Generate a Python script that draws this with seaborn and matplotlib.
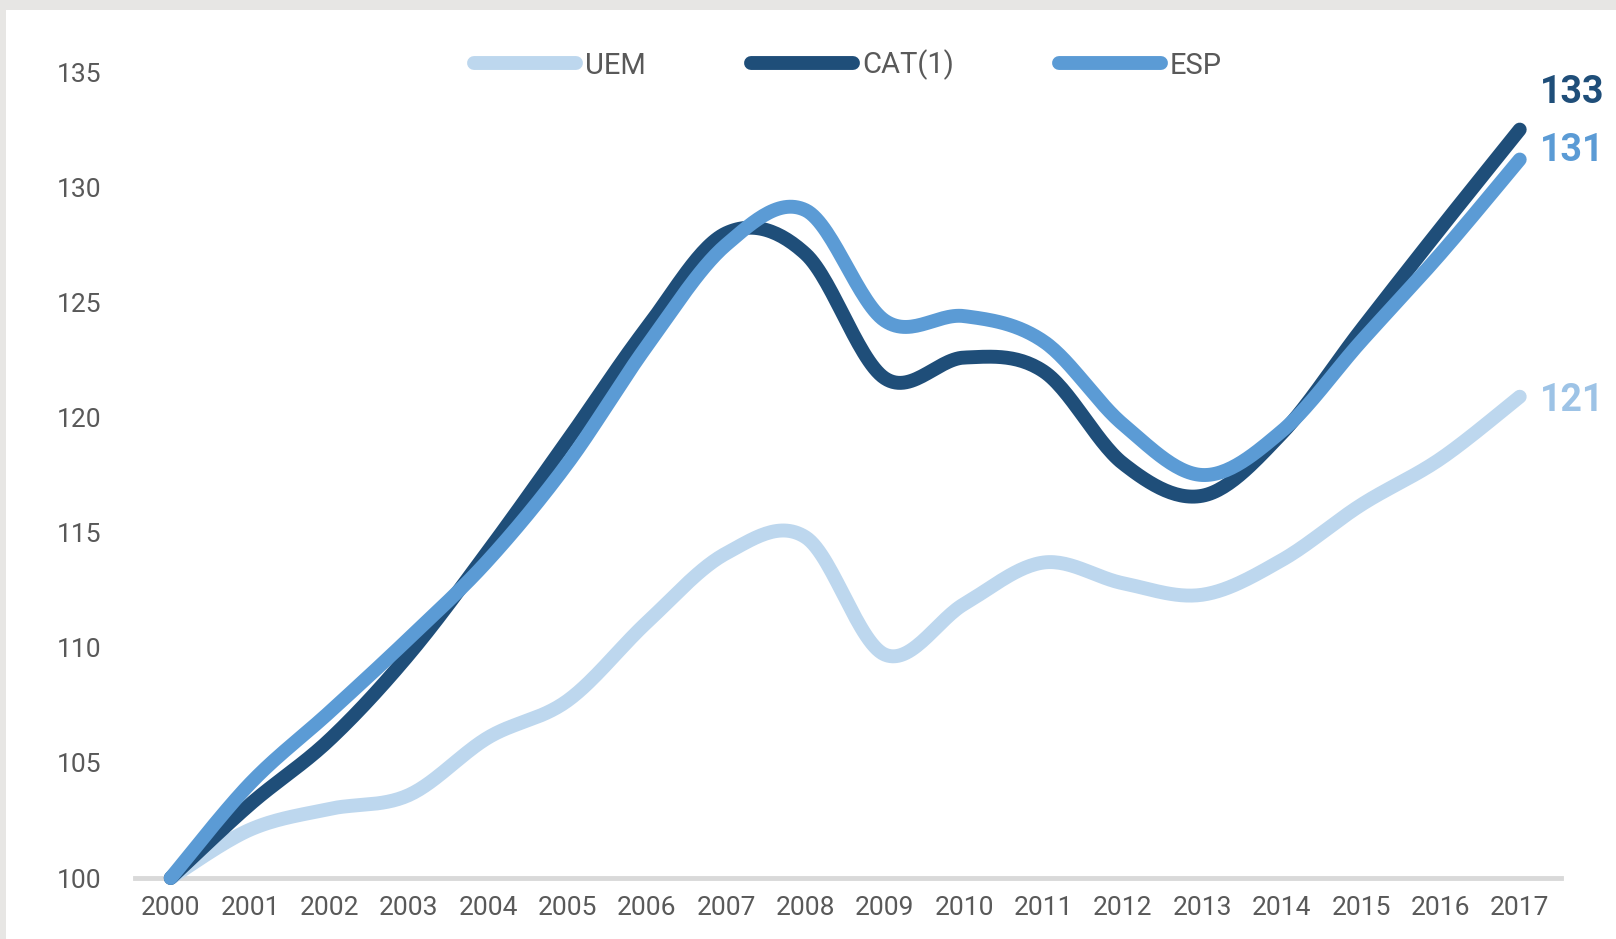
import numpy as np
import pandas as pd
import matplotlib
matplotlib.use('Agg')
import matplotlib.pyplot as plt
from matplotlib.patches import Rectangle
import seaborn as sns

# -----------------------------
# Data (index 2000 = 100)
# -----------------------------
years = list(range(2000, 2018))
uem = [100, 102.1, 103.0, 103.6, 106.1, 107.7, 111.1, 114.1, 114.8, 109.7,
       111.9, 113.7, 112.8, 112.3, 113.8, 116.2, 118.2, 120.9]
cat = [100, 103.2, 106.0, 109.7, 114.2, 119.0, 123.9, 128.0, 127.1, 121.7,
       122.6, 122.0, 118.0, 116.6, 119.3, 123.8, 128.2, 132.5]
esp = [100, 104.1, 107.2, 110.4, 113.8, 118.0, 123.1, 127.5, 129.0, 124.2,
       124.4, 123.3, 119.7, 117.5, 119.4, 123.3, 127.1, 131.2]
series_names = ['UEM', 'CAT(1)', 'ESP']
end_labels = ['121', '133', '131']

line_colors = ['#BDD7EE', '#1F4E79', '#5B9BD5']
label_colors = ['#9DC3E6', '#1F4E79', '#5B9BD5']
text_gray = '#595959'


def smooth(x, y, n=30):
    # Excel-style smoothed line (Bezier through the points)
    x = np.asarray(x, float)
    y = np.asarray(y, float)
    px = np.concatenate([[x[0]], x, [x[-1]]])
    py = np.concatenate([[y[0]], y, [y[-1]]])
    xs, ys = [], []
    t = np.linspace(0, 1, n, endpoint=False)
    for i in range(1, len(x)):
        p0 = np.array([px[i], py[i]])
        p3 = np.array([px[i + 1], py[i + 1]])
        p1 = p0 + (np.array([px[i + 1], py[i + 1]]) - np.array([px[i - 1], py[i - 1]])) / 6
        p2 = p3 - (np.array([px[i + 2], py[i + 2]]) - np.array([px[i], py[i]])) / 6
        b = ((1 - t) ** 3)[:, None] * p0 + (3 * (1 - t) ** 2 * t)[:, None] * p1 \
            + (3 * (1 - t) * t ** 2)[:, None] * p2 + (t ** 3)[:, None] * p3
        xs.extend(b[:, 0])
        ys.extend(b[:, 1])
    xs.append(x[-1])
    ys.append(y[-1])
    return np.array(xs), np.array(ys)


frames = []
for name, vals in zip(series_names, [uem, cat, esp]):
    sx, sy = smooth(years, vals)
    frames.append(pd.DataFrame({'year': sx, 'value': sy, 'serie': name}))
df = pd.concat(frames, ignore_index=True)

# -----------------------------
# Plot
# -----------------------------
sns.set_style('white')
plt.rcParams['font.family'] = ['Roboto', 'DejaVu Sans']

fig = plt.figure(figsize=(16.16, 9.39), dpi=100)
fig.patch.set_facecolor('#E7E6E4')
fig.add_artist(Rectangle((6 / 1616, 0), 1, (939 - 10) / 939, transform=fig.transFigure,
                         facecolor='white', edgecolor='none', zorder=0))
ax = fig.add_axes([135 / 1616, 61 / 939, (1561 - 135) / 1616, (878 - 72) / 939])
ax.set_facecolor('none')

lw = 10
sns.lineplot(data=df, x='year', y='value', hue='serie', hue_order=series_names,
             palette=line_colors, estimator=None, sort=False,
             linewidth=lw, ax=ax, legend=False)
for ln in ax.get_lines():
    ln.set_solid_capstyle('round')
    ln.set_solid_joinstyle('round')
    ln.set_clip_on(False)
    ln.set_zorder(3)

ax.set_xlim(1999.55, 2017.52)
ax.set_ylim(100, 135)
ax.set_xticks(years)
ax.set_xticklabels([str(y) for y in years])
ax.set_yticks(range(100, 136, 5))
ax.tick_params(axis='both', length=0, labelsize=19, colors=text_gray)
ax.tick_params(axis='x', pad=13)
ax.tick_params(axis='y', pad=24)
ax.set_xlabel('')
ax.set_ylabel('')

for side in ['top', 'right', 'left']:
    ax.spines[side].set_visible(False)
ax.spines['bottom'].set_color('#D9D9D9')
ax.spines['bottom'].set_linewidth(3.5)
ax.spines['bottom'].set_zorder(1)

# end labels
offsets = [(20, -4), (20, 37), (20, 9)]
for vals, lab, col, off in zip([uem, cat, esp], end_labels, label_colors, offsets):
    ax.annotate(lab, xy=(years[-1], vals[-1]), xytext=off, textcoords='offset pixels',
                ha='left', va='center', fontsize=27, fontweight='bold', color=col,
                annotation_clip=False)

# legend
handles = [plt.Line2D([0], [0], color=c, linewidth=lw, solid_capstyle='round')
           for c in line_colors]
leg = ax.legend(handles, series_names, ncol=3, frameon=False, loc='center',
                bbox_to_anchor=(0.5, (939 - 65 - 61) / (878 - 72)),
                fontsize=21, handlelength=3.5, handletextpad=0.3,
                columnspacing=3.6)
for t in leg.get_texts():
    t.set_color(text_gray)

plt.savefig('out.png', dpi=100, facecolor=fig.get_facecolor())
